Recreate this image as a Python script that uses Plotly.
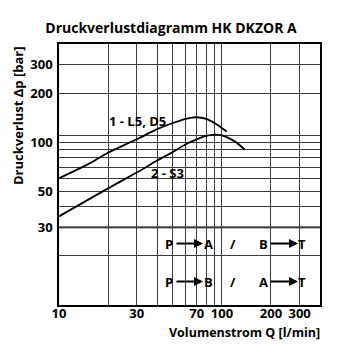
import math
import plotly.graph_objects as go

# ---- data ----
q_l5d5 = [10, 15, 20, 30, 40, 50, 60, 70, 80, 90, 100, 107]
dp_l5d5 = [60, 73, 86, 104, 120, 131, 139, 142, 139, 131, 122, 116]

q_s3 = [10, 20, 30, 40, 50, 60, 70, 80, 90, 100, 120, 138]
dp_s3 = [35, 52, 65, 77, 87, 97, 104, 109, 111, 110, 101, 90]

x_tickvals = [10, 20, 30, 40, 50, 60, 70, 80, 90, 100, 200, 300]
x_ticktext = ["10", "", "30", "", "", "", "70", "", "", "100", "200", "300"]
y_tickvals = [20, 30, 40, 50, 60, 70, 80, 90, 100, 110, 200, 300]
y_ticktext = ["", "30", "", "50", "", "", "", "", "100", "", "200", "300"]

x_range = [10, 400]
y_range = [10, 400]

FONT = "Open Sans"
# plot area in pixels
L, R, T, B = 59, 320, 44, 305


def px(x):
    return (x - L) / (R - L)


def py(y):
    return (B - y) / (B - T)


def ydata_paper(v):
    a, b = math.log10(y_range[0]), math.log10(y_range[1])
    return (math.log10(v) - a) / (b - a)


fig = go.Figure()
fig.add_trace(go.Scatter(x=q_l5d5, y=dp_l5d5, mode="lines",
                         line=dict(color="black", width=1.8, shape="spline", smoothing=0.8),
                         showlegend=False, hoverinfo="skip"))
fig.add_trace(go.Scatter(x=q_s3, y=dp_s3, mode="lines",
                         line=dict(color="black", width=1.8, shape="spline", smoothing=0.8),
                         showlegend=False, hoverinfo="skip"))

shapes = []
# thick line at 30 bar
shapes.append(dict(type="line", xref="paper", yref="paper", x0=0, x1=1,
                   y0=ydata_paper(30), y1=ydata_paper(30),
                   line=dict(color="#7a7a7a", width=2.5), layer="between"))
# white label boxes
for (x0, x1, y0, y1) in [(101, 172, 114, 128), (145, 192, 161, 183),
                         (160, 316, 232, 255), (160, 316, 270, 292)]:
    shapes.append(dict(type="rect", xref="paper", yref="paper",
                       x0=px(x0), x1=px(x1), y0=py(y1), y1=py(y0),
                       fillcolor="white", line=dict(width=0), layer="between"))

ann = []
bold = dict(family=FONT, size=13, color="black", weight="bold")


def label(text, x, y, xanchor="center", **kw):
    d = dict(text="<b>" + text + "</b>", x=px(x), y=py(y), xref="paper", yref="paper",
             xanchor=xanchor, yanchor="middle", showarrow=False, font=bold)
    d.update(kw)
    ann.append(d)


label("1 - L5, D5", 137, 121)
label("2 - S3", 167, 173)

rows = [(243.5, "P", "A", "B", "T"), (281.5, "P", "B", "A", "T")]
for (yy, a1, a2, b1, b2) in rows:
    for (t, xx) in [(a1, 169), (a2, 208), ("/", 233), (b1, 263), (b2, 302)]:
        label(t, xx, yy)
    for (xs, xe) in [(175, 203), (269, 298)]:
        ann.append(dict(text="", x=px(xe), y=py(yy), xref="paper", yref="paper",
                        xanchor="center", yanchor="middle",
                        ax=xs - xe, ay=0, showarrow=True, arrowhead=2, arrowsize=0.95,
                        arrowwidth=1.9, arrowcolor="black", standoff=0))

label("Druckverlust Δp [bar]", 18, 116, textangle=-90)
label("Volumenstrom Q [l/min]", 322, 332, xanchor="right",
      font=dict(family=FONT, size=12.5, color="black", weight="bold"))

fig.update_layout(
    width=350, height=350,
    margin=dict(l=L, r=350 - R, t=T, b=350 - B),
    paper_bgcolor="white", plot_bgcolor="white",
    title=dict(text="<b>Druckverlustdiagramm HK DKZOR A</b>", xref="container", yref="container",
               x=171 / 350, y=1 - 28 / 350, xanchor="center", yanchor="middle",
               font=dict(family=FONT, size=14, color="black", weight="bold")),
    shapes=shapes, annotations=ann,
    xaxis=dict(type="log", range=[math.log10(x_range[0]), math.log10(x_range[1])],
               tickvals=x_tickvals, ticktext=x_ticktext, ticks="",
               showgrid=True, gridcolor="#3a3a3a", gridwidth=1,
               showline=True, linecolor="black", linewidth=1.5, mirror=True,
               zeroline=False, tickfont=bold, ticklabelstandoff=-4),
    yaxis=dict(type="log", range=[math.log10(y_range[0]), math.log10(y_range[1])],
               tickvals=y_tickvals, ticktext=y_ticktext, ticks="",
               showgrid=True, gridcolor="#3a3a3a", gridwidth=1,
               showline=True, linecolor="black", linewidth=1.5, mirror=True,
               zeroline=False, tickfont=bold, ticklabelstandoff=2),
)

fig.write_html("out.html")
